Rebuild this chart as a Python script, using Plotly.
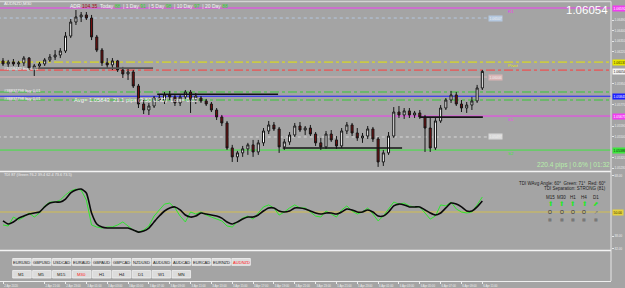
import plotly.graph_objects as go

W, H = 625, 288
BG = "#a4a4a4"
FONT = "Liberation Sans"

# ---------------- data ----------------
bar_index = list(range(93))
open_ = [1.06143, 1.06117, 1.06134, 1.06117, 1.06126, 1.06167, 1.06083, 1.06100, 1.06117, 1.06151,
         1.06176, 1.06193, 1.06227, 1.06354, 1.06473, 1.06516, 1.06533, 1.06507, 1.06346, 1.06235,
         1.06126, 1.06109, 1.06143, 1.06066, 1.06032, 1.06049, 1.05930, 1.05777, 1.05726, 1.05760,
         1.05828, 1.05811, 1.05854, 1.05837, 1.05786, 1.05837, 1.05879, 1.05811, 1.05828, 1.05803,
         1.05777, 1.05726, 1.05667, 1.05616, 1.05404, 1.05328, 1.05362, 1.05396, 1.05430, 1.05370,
         1.05447, 1.05548, 1.05599, 1.05565, 1.05413, 1.05455, 1.05514, 1.05590, 1.05556, 1.05573,
         1.05522, 1.05447, 1.05413, 1.05522, 1.05472, 1.05421, 1.05548, 1.05599, 1.05531, 1.05489,
         1.05505, 1.05565, 1.05480, 1.05285, 1.05362, 1.05505, 1.05709, 1.05684, 1.05718, 1.05684,
         1.05701, 1.05667, 1.05573, 1.05404, 1.05633, 1.05743, 1.05811, 1.05854, 1.05777, 1.05743,
         1.05768, 1.05803, 1.05913]
high = [1.06167, 1.06151, 1.06159, 1.06143, 1.06184, 1.06176, 1.06117, 1.06134, 1.06167, 1.06201,
        1.06235, 1.06252, 1.06388, 1.06499, 1.06575, 1.06558, 1.06558, 1.06533, 1.06363, 1.06252,
        1.06167, 1.06167, 1.06151, 1.06092, 1.06083, 1.06066, 1.05947, 1.05811, 1.05786, 1.05845,
        1.05862, 1.05879, 1.05888, 1.05862, 1.05854, 1.05896, 1.05896, 1.05871, 1.05845, 1.05820,
        1.05794, 1.05743, 1.05684, 1.05633, 1.05430, 1.05379, 1.05421, 1.05447, 1.05472, 1.05472,
        1.05573, 1.05633, 1.05624, 1.05582, 1.05480, 1.05539, 1.05616, 1.05624, 1.05590, 1.05599,
        1.05539, 1.05489, 1.05548, 1.05556, 1.05505, 1.05573, 1.05624, 1.05616, 1.05573, 1.05531,
        1.05590, 1.05582, 1.05497, 1.05387, 1.05539, 1.05751, 1.05760, 1.05743, 1.05743, 1.05718,
        1.05726, 1.05684, 1.05658, 1.05658, 1.05768, 1.05828, 1.05888, 1.05879, 1.05811, 1.05794,
        1.05837, 1.05939, 1.06066]
low = [1.06100, 1.06092, 1.06100, 1.06092, 1.06100, 1.06066, 1.06015, 1.06075, 1.06100, 1.06134,
       1.06151, 1.06167, 1.06210, 1.06337, 1.06448, 1.06473, 1.06490, 1.06320, 1.06218, 1.06100,
       1.06083, 1.06066, 1.06049, 1.05998, 1.05981, 1.05913, 1.05743, 1.05692, 1.05684, 1.05743,
       1.05794, 1.05777, 1.05811, 1.05760, 1.05760, 1.05820, 1.05701, 1.05777, 1.05786, 1.05760,
       1.05709, 1.05641, 1.05590, 1.05387, 1.05285, 1.05285, 1.05328, 1.05345, 1.05328, 1.05345,
       1.05421, 1.05522, 1.05548, 1.05362, 1.05387, 1.05430, 1.05497, 1.05539, 1.05514, 1.05505,
       1.05421, 1.05387, 1.05396, 1.05455, 1.05396, 1.05404, 1.05522, 1.05505, 1.05464, 1.05447,
       1.05480, 1.05455, 1.05243, 1.05251, 1.05345, 1.05489, 1.05658, 1.05650, 1.05658, 1.05658,
       1.05650, 1.05370, 1.05370, 1.05387, 1.05616, 1.05726, 1.05786, 1.05760, 1.05709, 1.05701,
       1.05726, 1.05786, 1.05896]
close = [1.06117, 1.06134, 1.06117, 1.06126, 1.06167, 1.06083, 1.06100, 1.06117, 1.06151, 1.06176,
         1.06193, 1.06227, 1.06354, 1.06473, 1.06516, 1.06533, 1.06507, 1.06346, 1.06235, 1.06126,
         1.06109, 1.06143, 1.06066, 1.06032, 1.06049, 1.05930, 1.05777, 1.05726, 1.05760, 1.05828,
         1.05811, 1.05854, 1.05837, 1.05786, 1.05837, 1.05879, 1.05811, 1.05845, 1.05803, 1.05777,
         1.05726, 1.05667, 1.05616, 1.05404, 1.05328, 1.05362, 1.05396, 1.05430, 1.05370, 1.05447,
         1.05548, 1.05599, 1.05565, 1.05413, 1.05455, 1.05514, 1.05590, 1.05556, 1.05573, 1.05522,
         1.05447, 1.05413, 1.05522, 1.05472, 1.05421, 1.05548, 1.05599, 1.05531, 1.05489, 1.05505,
         1.05565, 1.05480, 1.05285, 1.05362, 1.05505, 1.05709, 1.05684, 1.05718, 1.05684, 1.05701,
         1.05667, 1.05573, 1.05404, 1.05633, 1.05743, 1.05811, 1.05854, 1.05777, 1.05743, 1.05768,
         1.05803, 1.05913, 1.06054]

tdi_black = [45.6, 44.1, 45.1, 47.0, 48.0, 49.0, 49.5, 50.0, 52.5, 54.4,
             54.9, 54.9, 56.4, 59.4, 60.8, 61.3, 59.4, 49.5, 44.1, 42.6,
             42.1, 42.1, 42.1, 42.1, 42.1, 41.1, 40.1, 40.6, 42.1, 45.1,
             48.0, 50.5, 52.0, 52.5, 51.0, 48.5, 47.5, 48.0, 49.5, 49.0,
             48.5, 48.0, 47.0, 45.1, 44.1, 45.1, 46.5, 47.5, 47.5, 48.5,
             50.5, 52.0, 52.0, 50.5, 50.0, 50.5, 52.0, 52.0, 51.5, 50.5,
             49.5, 49.0, 49.5, 49.5, 49.0, 50.0, 51.5, 51.0, 50.0, 50.0,
             51.0, 50.0, 48.0, 48.0, 50.0, 53.0, 53.9, 53.5, 52.5, 52.5,
             52.5, 51.0, 49.5, 48.5, 49.5, 52.0, 54.4, 53.9, 52.5, 50.5,
             50.5, 52.5, 55.4]
tdi_green = [43.6, 43.1, 47.5, 46.1, 47.5, 49.5, 47.5, 49.5, 53.0, 54.9,
             54.9, 55.9, 58.4, 60.4, 61.3, 60.8, 55.9, 43.6, 42.6, 42.1,
             42.6, 42.6, 43.6, 45.1, 43.1, 41.1, 40.1, 41.1, 43.1, 48.0,
             51.0, 53.9, 54.4, 52.0, 48.0, 45.1, 50.0, 49.0, 50.0, 48.5,
             47.5, 46.5, 45.6, 43.1, 42.6, 45.1, 47.0, 48.0, 46.5, 49.5,
             52.5, 53.5, 52.0, 48.5, 50.0, 52.0, 53.5, 52.0, 52.0, 50.0,
             48.0, 47.5, 50.5, 49.0, 47.5, 51.0, 53.0, 50.5, 49.0, 50.0,
             52.0, 49.0, 45.6, 48.0, 51.5, 54.9, 53.9, 54.4, 53.0, 52.5,
             52.5, 49.5, 46.5, 48.0, 53.5, 53.0, 54.9, 51.5, 50.0, 49.5,
             50.0, 53.5, 57.4]
tdi_level = 50.0

time_tick_bars = [0, 8, 12, 16, 20, 24, 28, 32, 36, 40, 44, 48,
                  52, 56, 60, 64, 68, 72, 76, 80, 84, 88, 92]
time_tick_text = ["2 Apr 2020", "2 Apr 21:00", "2 Apr 23:00", "3 Apr 01:00", "3 Apr 03:00",
                  "3 Apr 05:00", "3 Apr 07:00", "3 Apr 09:00", "3 Apr 11:00", "3 Apr 13:00",
                  "3 Apr 15:00", "3 Apr 17:00", "3 Apr 19:00", "3 Apr 21:00", "3 Apr 23:00",
                  "5 Apr 21:00", "5 Apr 23:00", "6 Apr 01:00", "6 Apr 03:00", "6 Apr 05:00",
                  "6 Apr 07:00", "6 Apr 09:00", "6 Apr 11:00"]
# grid prices shown on the right scale (those hidden behind the level tags are left out)
price_ticks = [1.06490, 1.06400, 1.06310, 1.06220, 1.05950,
               1.05770, 1.05590, 1.05500, 1.05320, 1.05230]
tdi_ticks = [68.0, 38.0, 32.0]

# full-width horizontal levels
full_levels = [1.06592, 1.06133, 1.06065, 1.05879, 1.05843, 1.05811, 1.05675, 1.05386]
full_colors = ["#f23cf2", "#e6e600", "#ff3c3c", "#34c834", "#1e1eff", "#34c834", "#f23cf2", "#3ce63c"]
full_dash = ["solid", "dashdot", "dashdot", "dashdot", "solid", "dashdot", "solid", "solid"]
# levels ending at the price tag (bar ~93)
tag_levels = [1.06507, 1.06006, 1.05497]
tag_colors = ["#b4c8e0", "#d9b4b4", "#d8d8d8"]
tag_dash = ["dot", "solid", "dot"]
# short segment lines: (start bar, end bar, price, colour)
seg_start = [5.6, 29.6, 53.7, 80.0]
seg_end = [28.8, 52.8, 76.6, 92.1]
seg_price = [1.06082, 1.05860, 1.05403, 1.05666]
seg_color = ["#555555", "#141414", "#141414", "#141414"]

pivot_names = ["R1", "Pivot", "S1", "S2"]
pivot_prices = [1.06592, 1.06133, 1.05675, 1.05386]
pivot_colors = ["#f23cf2", "#e6e600", "#f23cf2", "#3ce63c"]

right_tag_prices = [1.06592, 1.06133, 1.06054, 1.05843, 1.05675, 1.05386]
right_tag_fill = ["#f23cf2", "#e6e600", "#f4f4f4", "#1e1eff", "#f23cf2", "#3ce63c"]
right_tag_text = ["#ffffff", "#303000", "#202020", "#ffffff", "#ffffff", "#103010"]

pairs = ["EURUSD", "GBPUSD", "USDCAD", "EURAUD", "GBPAUD", "GBPCAD",
         "NZDUSD", "AUDUSD", "AUDCAD", "EURCAD", "EURNZD", "AUDNZD"]
timeframes = ["M1", "M5", "M15", "M30", "H1", "H4", "D1", "W1", "MN"]
tf_grid = ["M15", "M30", "H1", "H4", "D1"]

# ---------------- layout helpers ----------------
PLOT_R = 611          # right edge of plotting area (px)
MAIN_T, MAIN_B = 2, 171
IND_T, IND_B = 172, 250
BTN_B = 281
P0, PSC = 1.06660, 0.0000849   # price at pixel row 0, price per pixel row


def px(x):
    return x / W


def py(y):
    return 1 - y / H


def prow(p):
    return (P0 - p) / PSC


p_top = P0 - PSC * MAIN_T
p_bot = P0 - PSC * MAIN_B
t_top = 50 - (IND_T - 212) * 0.493
t_bot = 50 - (IND_B - 212) * 0.493

fig = go.Figure()
fig.add_trace(go.Candlestick(
    x=bar_index, open=open_, high=high, low=low, close=close,
    increasing=dict(line=dict(color="#151515", width=1), fillcolor="#ffffff"),
    decreasing=dict(line=dict(color="#151515", width=1), fillcolor="#7a0e0e"),
    whiskerwidth=0, xaxis="x", yaxis="y", hoverinfo="skip", showlegend=False))
fig.add_trace(go.Scatter(x=bar_index, y=tdi_green, mode="lines",
                         line=dict(color="#2ee62e", width=1), xaxis="x", yaxis="y2",
                         showlegend=False, hoverinfo="skip"))
fig.add_trace(go.Scatter(x=bar_index, y=tdi_black, mode="lines",
                         line=dict(color="#0a0a0a", width=1.6, shape="spline", smoothing=0.6),
                         xaxis="x", yaxis="y2", showlegend=False, hoverinfo="skip"))

shapes = []
for p, c, d in zip(full_levels, full_colors, full_dash):
    shapes.append(dict(type="line", xref="x domain", yref="y", x0=0, x1=1, y0=p, y1=p,
                       line=dict(color=c, width=1, dash=d), layer="below"))
for p, c, d in zip(tag_levels, tag_colors, tag_dash):
    shapes.append(dict(type="line", xref="x", yref="y", x0=-1, x1=92.9, y0=p, y1=p,
                       line=dict(color=c, width=1, dash=d), layer="below"))
for s, e, p, c in zip(seg_start, seg_end, seg_price, seg_color):
    shapes.append(dict(type="line", xref="x", yref="y", x0=s, x1=e, y0=p, y1=p,
                       line=dict(color=c, width=1.6)))
shapes.append(dict(type="line", xref="x domain", yref="y2", x0=0, x1=1, y0=tdi_level, y1=tdi_level,
                   line=dict(color="#d2be50", width=1), layer="below"))
# panel borders
for yy, col in [(MAIN_T - 0.5, "#d4d4d4"), (MAIN_B + 0.5, "#f4f4f4"), (IND_B + 0.5, "#f4f4f4")]:
    shapes.append(dict(type="line", xref="paper", yref="paper", x0=0, x1=px(PLOT_R),
                       y0=py(yy), y1=py(yy), line=dict(color=col, width=1.5)))
shapes.append(dict(type="line", xref="paper", yref="paper", x0=px(PLOT_R), x1=px(PLOT_R),
                   y0=py(MAIN_T - 0.5), y1=py(BTN_B), line=dict(color="#e6e6e6", width=1)))

annotations = []


def text(x, y, s, size=5, color="white", xanchor="left", yanchor="middle", bg=None,
         family=FONT):
    a = dict(x=px(x), y=py(y), xref="paper", yref="paper", text=s, showarrow=False,
             xanchor=xanchor, yanchor=yanchor,
             font=dict(size=size, color=color, family=family))
    if bg is not None:
        a.update(bgcolor=bg, borderpad=0.5)
    annotations.append(a)


# buttons
for i, name in enumerate(pairs):
    x0 = 12.7 + i * 19.92
    shapes.append(dict(type="rect", xref="paper", yref="paper", x0=px(x0), x1=px(x0 + 18.5),
                       y0=py(265.3), y1=py(258.5), fillcolor="#dcdcdc",
                       line=dict(color="#f2f2f2", width=0.8)))
    text(x0 + 9.25, 262, name, size=4.1, color="#ff2020" if name == "AUDNZD" else "#1a1a1a",
         xanchor="center")
for i, name in enumerate(timeframes):
    x0 = 12.7 + i * 19.92
    shapes.append(dict(type="rect", xref="paper", yref="paper", x0=px(x0), x1=px(x0 + 18.5),
                       y0=py(278), y1=py(270.5), fillcolor="#dcdcdc",
                       line=dict(color="#f2f2f2", width=0.8)))
    text(x0 + 9.25, 274.3, name, size=4.3, color="#ff2020" if name == "M30" else "#1a1a1a",
         xanchor="center")

# main panel texts
text(2, 3.8, "AUDNZD,M30", size=4.3, color="#f4f4f4")
adr = ("ADR <span style='color:#a01010'>104.35</span>  Today <span style='color:#30d030'>88</span>"
       "  | 1 Day <span style='color:#30d030'>91</span>  | 5 Day <span style='color:#30d030'>98</span>"
       "  | 10 Day <span style='color:#30d030'>97</span>  | 20 Day <span style='color:#30d030'>88</span>")
text(68, 6.2, adr, size=5, color="#f4f4f4")
text(2, 68.3, "#1058432 buy 0.01", size=4.0, color="#f4f4f4")
text(2, 90.5, "#38837798 buy 0.01", size=4.0, color="#f4f4f4")
text(2, 98.5, "#38837798 buy 0.01", size=4.0, color="#ffffff")
text(72, 100.5, "Avg= 1.05843  21.1 pips (3.50 USD)  Lots= 0.02", size=5.8, color="#f6f6f6")
text(610, 10, "1.06054", size=11.5, color="#ffffff", xanchor="right")
text(612, 164.5, "220.4 pips | 0.6% | 01:32", size=6.6, color="#b6eeaa", xanchor="right")
for n, p, c in zip(pivot_names, pivot_prices, pivot_colors):
    text(506, prow(p) + 3, n, size=4.4, color=c)
for p, c in zip(tag_levels, tag_colors):
    text(487.5, prow(p), f"{p:.5f}", size=3.4, color="#f0f0f0", bg=c)
for p, f, tc in zip(right_tag_prices, right_tag_fill, right_tag_text):
    text(611.5, prow(p), f"{p:.5f}", size=3.4, color=tc, bg=f)

# indicator panel texts
text(2, 175, "TDI 87 (Green 76.2 39.4 62.4 73.6 73.5)", size=3.8, color="#f0f0f0")
text(608, 183, "TDI WAvg Angle: 60°  Green: 71°  Red: 60°", size=4.5, color="#1c1c1c", xanchor="right")
text(608, 188.5, "TDI Separation: STRONG (81)", size=4.5, color="#1c1c1c", xanchor="right")
grid_x = [550, 561.7, 572.7, 584, 595.7]
for gx, name in zip(grid_x, tf_grid):
    text(gx, 197, name, size=4.5, color="#1c1c1c", xanchor="center")
    text(gx, 203.5, "⬈" if name == "D1" else "⬆", size=6.5, color="#28e628", xanchor="center",
         family="DejaVu Sans")
    text(gx, 212, "↗" if name == "D1" else "O", size=5, color="#7a7a7a" if name == "D1" else "#262626",
         xanchor="center")
    text(gx, 219, "■", size=4, color="#787878", xanchor="center", family="DejaVu Sans")
text(611.5, 212, "50.00", size=3.4, color="#303000", bg="#e6d23c")

fig.update_layout(
    width=W, height=H, margin=dict(l=0, r=0, t=0, b=0),
    paper_bgcolor=BG, plot_bgcolor=BG, showlegend=False, boxgap=0.45,
    shapes=shapes, annotations=annotations,
    font=dict(family=FONT, size=5, color="#eeeeee"),
    xaxis=dict(domain=[0, px(PLOT_R)], range=[-0.576, (PLOT_R - 3) / 5.21],
               anchor="free", position=1 - BTN_B / H,
               rangeslider=dict(visible=False), showgrid=False, zeroline=False,
               showline=True, linecolor="#eeeeee", linewidth=1,
               tickmode="array", tickvals=time_tick_bars, ticktext=time_tick_text,
               ticks="outside", ticklen=2, tickcolor="#eeeeee", tickwidth=1,
               tickfont=dict(size=2.8, color="#f0f0f0", family=FONT),
               ticklabelshift=8, ticklabelstandoff=0, tickangle=0),
    yaxis=dict(domain=[1 - MAIN_B / H, 1 - MAIN_T / H], range=[p_bot, p_top],
               side="right", anchor="x", showgrid=False, zeroline=False,
               tickmode="array", tickvals=price_ticks,
               ticktext=[f"{v:.5f}" for v in price_ticks],
               ticks="outside", ticklen=2, tickcolor="#e6e6e6",
               tickfont=dict(size=3, color="#eeeeee", family=FONT)),
    yaxis2=dict(domain=[1 - IND_B / H, 1 - IND_T / H], range=[t_bot, t_top],
                side="right", anchor="x", showgrid=False, zeroline=False,
                tickmode="array", tickvals=tdi_ticks,
                ticktext=[f"{v:.2f}" for v in tdi_ticks],
                ticks="outside", ticklen=2, tickcolor="#e6e6e6",
                tickfont=dict(size=3, color="#eeeeee", family=FONT)),
)

fig.write_html("out.html")
